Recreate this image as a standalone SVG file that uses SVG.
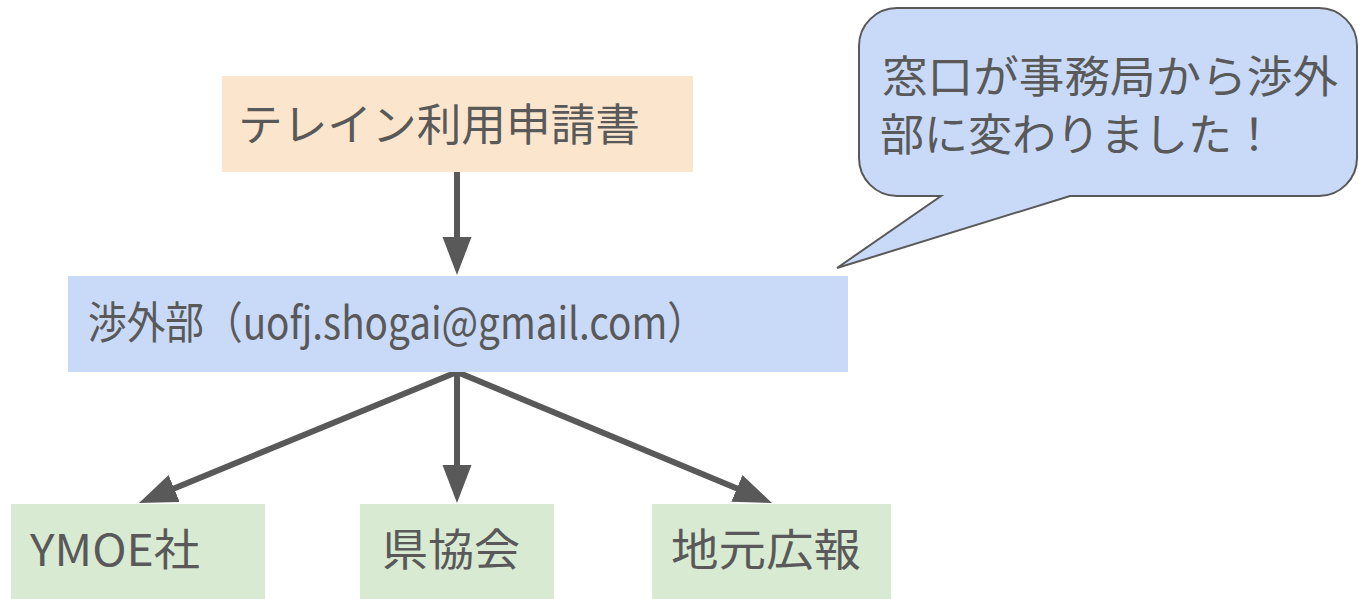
<svg xmlns="http://www.w3.org/2000/svg" width="1359" height="599" viewBox="0 0 1359 599">
<style>
text{font-family:"Noto Sans CJK JP","Noto Sans",sans-serif;fill:#595959;font-size:44px}
.conn{stroke:#595959;stroke-width:6;fill:none}
</style>
<defs>
<marker id="ah" markerUnits="userSpaceOnUse" markerWidth="40" markerHeight="30" refX="10" refY="14.5" orient="auto">
<path d="M0,0 L38,14.5 L0,29 Z" fill="#595959"/>
</marker>
</defs>
<rect width="1359" height="599" fill="#ffffff"/>
<g id="connectors">
<line class="conn" x1="457" y1="172" x2="457" y2="247" marker-end="url(#ah)"/>
<line class="conn" x1="457" y1="372" x2="164.9" y2="492.3" marker-end="url(#ah)"/>
<line class="conn" x1="457" y1="372" x2="457" y2="475" marker-end="url(#ah)"/>
<line class="conn" x1="457" y1="372" x2="746.1" y2="492.3" marker-end="url(#ah)"/>
</g>
<g id="node-form">
<rect x="222" y="76" width="471" height="96" fill="#fce5cd"/>
<text x="238" y="141" textLength="402" lengthAdjust="spacingAndGlyphs">テレイン利用申請書</text>
</g>
<g id="node-shogai">
<rect x="68" y="276" width="780" height="96" fill="#c9daf8"/>
<text x="88" y="339" textLength="618" lengthAdjust="spacingAndGlyphs">渉外部（uofj.shogai@gmail.com）</text>
</g>
<g id="node-ymoe">
<rect x="11" y="504" width="254" height="95" fill="#d9ead3"/>
<text x="30" y="566" textLength="170" lengthAdjust="spacingAndGlyphs">YMOE社</text>
</g>
<g id="node-ken">
<rect x="360" y="504" width="194" height="95" fill="#d9ead3"/>
<text x="382" y="566" textLength="138" lengthAdjust="spacingAndGlyphs">県協会</text>
</g>
<g id="node-jimoto">
<rect x="652" y="504" width="239" height="95" fill="#d9ead3"/>
<text x="671" y="566" textLength="190" lengthAdjust="spacingAndGlyphs">地元広報</text>
</g>
<g id="callout">
<path d="M897,8 H1319 A38,38 0 0 1 1357,46 V158 A38,38 0 0 1 1319,196 H1070 L837,268 L941,196 H897 A38,38 0 0 1 859,158 V46 A38,38 0 0 1 897,8 Z" fill="#c9daf8" stroke="#595959" stroke-width="2"/>
<text x="882" y="93" textLength="456" lengthAdjust="spacingAndGlyphs">窓口が事務局から渉外</text>
<text x="880" y="151">部に変わりました！</text>
</g>
</svg>
